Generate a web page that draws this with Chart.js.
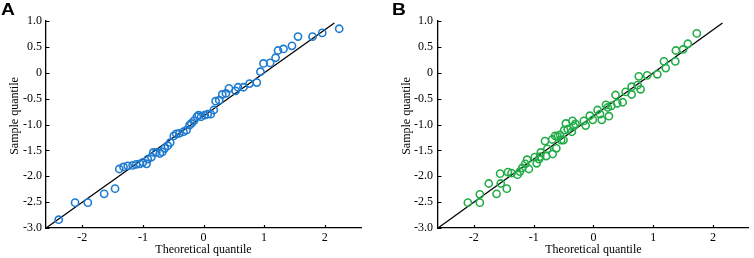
<!DOCTYPE html>
<html>
<head>
<meta charset="utf-8">
<script src="https://cdn.jsdelivr.net/npm/chart.js@4/dist/chart.umd.min.js"></script>
<style>
  html, body { margin: 0; padding: 0; background: #fff; }
  #wrap { position: relative; width: 754px; height: 258px; overflow: hidden; }
  .panel { position: absolute; top: 0; width: 377px; height: 258px; }
  .lbl { position: absolute; top: 2px; font: bold 16px "Liberation Sans", Arial, sans-serif; line-height: 16px; color: #000; transform-origin: left top; transform: scaleX(1.2); }
</style>
</head>
<body>
<div id="wrap">
  <div class="panel" style="left:0"><canvas id="cA" width="377" height="258"></canvas></div>
  <div class="panel" style="left:377px"><canvas id="cB" width="377" height="258"></canvas></div>
  <div class="lbl" style="left:1px">A</div>
  <div class="lbl" style="left:392px">B</div>
</div>
<script>
// ---- Data ----
const xTickValues = [-2, -1, 0, 1, 2];
const yTickValues = [-3.0, -2.5, -2.0, -1.5, -1.0, -0.5, 0, 0.5, 1.0];
const refLineX = [-2.6, 2.16];
const refLineY = [-3.0, 0.96];

const aTheoretical = [-2.39,-2.12,-1.91,-1.64,-1.46,-1.39,-1.32,-1.25,-1.17,-1.11,-1.05,-1.00,-0.94,-0.92,-0.86,-0.83,-0.78,-0.72,-0.68,-0.64,-0.59,-0.55,-0.49,-0.45,-0.40,-0.33,-0.28,-0.23,-0.20,-0.16,-0.11,-0.08,-0.04,0.02,0.07,0.12,0.17,0.20,0.26,0.31,0.37,0.42,0.53,0.57,0.66,0.76,0.88,0.94,0.99,1.10,1.19,1.23,1.32,1.46,1.56,1.80,1.96,2.24];
const aSample      = [-2.84,-2.51,-2.51,-2.34,-2.24,-1.86,-1.82,-1.80,-1.79,-1.77,-1.76,-1.73,-1.76,-1.67,-1.63,-1.54,-1.54,-1.56,-1.53,-1.46,-1.41,-1.35,-1.22,-1.18,-1.17,-1.14,-1.11,-1.01,-0.98,-0.93,-0.85,-0.82,-0.85,-0.82,-0.80,-0.80,-0.72,-0.55,-0.53,-0.42,-0.40,-0.30,-0.35,-0.28,-0.28,-0.21,-0.19,0.02,0.18,0.19,0.29,0.43,0.46,0.52,0.70,0.70,0.77,0.85];

const bTheoretical = [-2.10,-1.90,-1.90,-1.75,-1.62,-1.56,-1.55,-1.45,-1.43,-1.37,-1.27,-1.23,-1.19,-1.14,-1.11,-1.08,-0.98,-0.95,-0.91,-0.89,-0.88,-0.81,-0.79,-0.77,-0.69,-0.68,-0.64,-0.62,-0.60,-0.56,-0.54,-0.50,-0.49,-0.46,-0.43,-0.36,-0.35,-0.33,-0.30,-0.16,-0.13,-0.06,-0.01,0.07,0.11,0.14,0.21,0.24,0.26,0.30,0.37,0.40,0.49,0.54,0.64,0.64,0.74,0.76,0.79,0.90,1.07,1.18,1.21,1.37,1.38,1.50,1.58,1.73];
const bSample      = [-2.51,-2.35,-2.51,-2.14,-2.34,-1.95,-2.14,-2.24,-1.92,-1.94,-1.97,-1.91,-1.84,-1.76,-1.68,-1.86,-1.63,-1.75,-1.67,-1.62,-1.54,-1.32,-1.61,-1.47,-1.29,-1.57,-1.22,-1.46,-1.23,-1.20,-1.30,-1.30,-1.11,-0.98,-1.09,-1.14,-0.93,-1.03,-0.99,-0.93,-1.02,-0.83,-0.91,-0.72,-0.80,-0.91,-0.62,-0.67,-0.84,-0.64,-0.43,-0.59,-0.57,-0.37,-0.27,-0.42,-0.24,-0.07,-0.32,-0.05,-0.03,0.22,0.09,0.22,0.43,0.45,0.56,0.76];

const FONT = '"Liberation Serif", "Times New Roman", serif';

function pts(xs, ys) { return xs.map((x, i) => ({ x: x, y: ys[i] })); }

const decorPlugin = {
  id: 'decor',
  afterDraw(chart, args, opts) {
    const ctx = chart.ctx;
    const xs = chart.scales.x, ys = chart.scales.y;
    const area = chart.chartArea;
    ctx.save();
    ctx.strokeStyle = '#000';
    ctx.lineWidth = 1.2;
    ctx.beginPath();
    yTickValues.forEach(v => {
      const py = Math.round(ys.getPixelForValue(v)) + 0.5;
      ctx.moveTo(area.left, py); ctx.lineTo(area.left + 3.5, py);
    });
    xTickValues.forEach(v => {
      const px = Math.round(xs.getPixelForValue(v)) + 0.5;
      ctx.moveTo(px, area.bottom); ctx.lineTo(px, area.bottom - 3);
    });
    ctx.stroke();
    // y axis title
    ctx.fillStyle = '#000';
    ctx.font = '12px ' + FONT;
    ctx.textAlign = 'center';
    ctx.textBaseline = 'middle';
    ctx.translate(opts.titleX, 116);
    ctx.rotate(-Math.PI / 2);
    ctx.fillText('Sample quantile', 0, 0);
    ctx.restore();
  }
};

function makeChart(id, xs, ys, color, yWidth, padRight, titleX, labelPad) {
  return new Chart(document.getElementById(id), {
    type: 'scatter',
    data: {
      datasets: [
        {
          type: 'line',
          data: pts(refLineX, refLineY),
          borderColor: '#000',
          borderWidth: 1.3,
          pointRadius: 0,
          fill: false,
          order: 2
        },
        {
          data: pts(xs, ys),
          borderColor: color,
          backgroundColor: 'rgba(0,0,0,0)',
          borderWidth: 1.6,
          pointRadius: 3.6,
          pointHoverRadius: 3.6,
          order: 1
        }
      ]
    },
    options: {
      responsive: false,
      animation: false,
      events: [],
      layout: { padding: { top: 21, right: padRight, left: 0, bottom: 0 } },
      plugins: { legend: { display: false }, tooltip: { enabled: false }, decor: { titleX: titleX } },
      scales: {
        x: {
          type: 'linear',
          min: -2.6, max: 2.6,
          afterBuildTicks: s => { s.ticks = xTickValues.map(v => ({ value: v })); },
          afterFit: s => { s.height = 30; },
          grid: { display: false, drawTicks: false },
          border: { display: true, color: '#000', width: 1.3 },
          ticks: { color: '#000', font: { family: FONT, size: 12 }, padding: 3, maxRotation: 0,
                   callback: v => String(v) },
          title: { display: true, text: 'Theoretical quantile', color: '#000',
                   font: { family: FONT, size: 12 }, padding: { top: 0, bottom: 1 } }
        },
        y: {
          type: 'linear',
          min: -3.0, max: 1.0,
          afterBuildTicks: s => { s.ticks = yTickValues.map(v => ({ value: v })); },
          afterFit: s => { s.width = yWidth; },
          grid: { display: false, drawTicks: false },
          border: { display: true, color: '#000', width: 1.3 },
          ticks: { color: '#000', font: { family: FONT, size: 12 }, padding: labelPad,
                   callback: v => (v === 0 ? '0' : v.toFixed(1)) }
        }
      }
    },
    plugins: [decorPlugin]
  });
}

makeChart('cA', aTheoretical, aSample, '#1e7bd0', 46, 16, 15, 4);
makeChart('cB', bTheoretical, bSample, '#22ad48', 61, 0, 30, 5);
</script>
</body>
</html>
